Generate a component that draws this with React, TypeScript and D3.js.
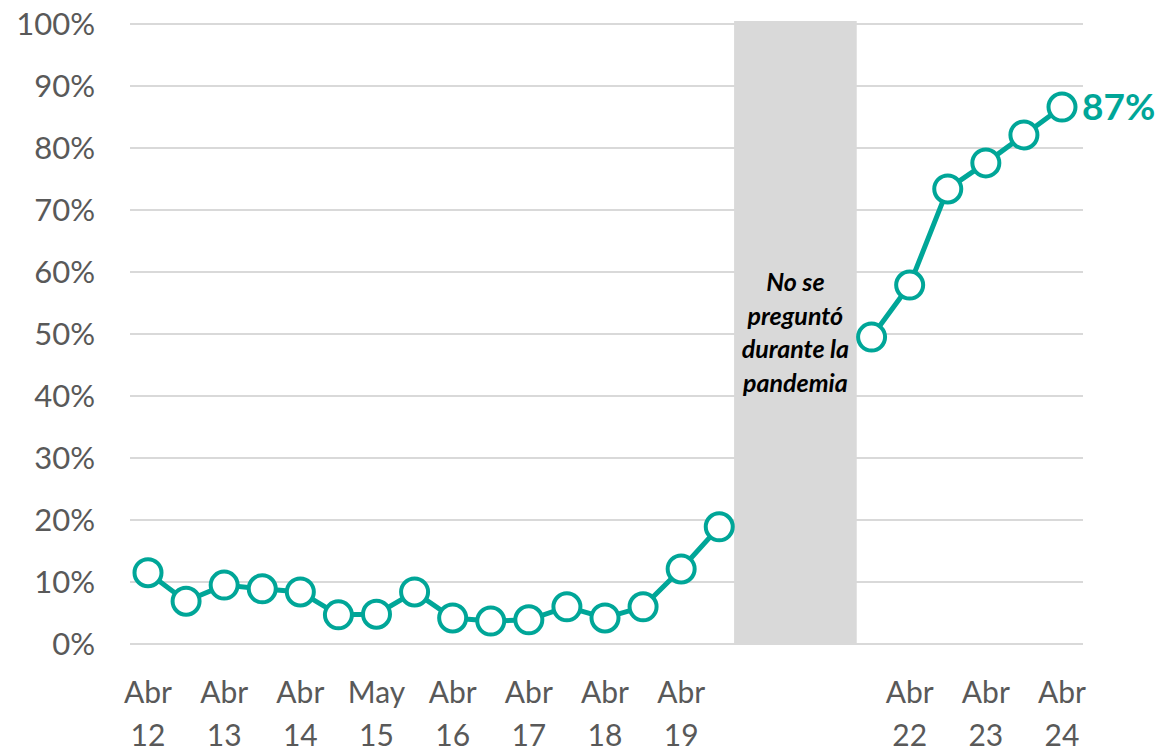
import React from "react";
import * as d3 from "d3";

const periods: string[] = [
  "Abr 12", "Oct 12", "Abr 13", "Oct 13", "Abr 14", "Oct 14", "May 15", "Oct 15",
  "Abr 16", "Oct 16", "Abr 17", "Oct 17", "Abr 18", "Oct 18", "Abr 19", "Oct 19",
  "g1", "g2", "g3", "Oct 21", "Abr 22", "Oct 22", "Abr 23", "Oct 23", "Abr 24",
];
const values: (number | null)[] = [
  11.5, 6.9, 9.5, 8.9, 8.4, 4.7, 4.8, 8.4,
  4.2, 3.7, 3.9, 6.0, 4.2, 6.0, 12.1, 18.9,
  null, null, null, 49.5, 57.9, 73.4, 77.6, 82.1, 86.6,
];
const tickLabels: { idx: number; top: string; bottom: string }[] = [
  { idx: 0, top: "Abr", bottom: "12" },
  { idx: 2, top: "Abr", bottom: "13" },
  { idx: 4, top: "Abr", bottom: "14" },
  { idx: 6, top: "May", bottom: "15" },
  { idx: 8, top: "Abr", bottom: "16" },
  { idx: 10, top: "Abr", bottom: "17" },
  { idx: 12, top: "Abr", bottom: "18" },
  { idx: 14, top: "Abr", bottom: "19" },
  { idx: 20, top: "Abr", bottom: "22" },
  { idx: 22, top: "Abr", bottom: "23" },
  { idx: 24, top: "Abr", bottom: "24" },
];
const yTicks: number[] = [0, 10, 20, 30, 40, 50, 60, 70, 80, 90, 100];
const gapNote: string[] = ["No se", "preguntó", "durante la", "pandemia"];
const finalLabel = "87%";

const TEAL = "#00a698";
const FONT = "Lato, 'Open Sans', sans-serif";

export default function App() {
  const W = 1160, H = 751;
  const x = d3.scaleLinear().domain([0, 24]).range([148, 1062]);
  const y = d3.scaleLinear().domain([0, 100]).range([644, 24]);
  const step = x(1) - x(0);

  const pts = values.map((v, i) => ({ i, v }));
  const line = d3
    .line<{ i: number; v: number | null }>()
    .defined((d) => d.v !== null)
    .x((d) => x(d.i))
    .y((d) => y(d.v as number));

  const bandX0 = x(17) - step * 1.61;
  const bandX1 = x(17) + step * 1.61;
  const lastIdx = values.length - 1;

  return (
    <svg width={W} height={H} style={{ position: "absolute", left: 0, top: 0 }}>
      <rect x={0} y={0} width={W} height={H} fill="#fff" />
      {yTicks.map((t) => (
        <g key={t}>
          <line x1={130} x2={1083} y1={y(t)} y2={y(t)} stroke="#d9d9d9" strokeWidth={2} />
          <text
            x={95}
            y={y(t)}
            dy="0.36em"
            textAnchor="end"
            fontFamily={FONT}
            fontSize={31}
            fill="#595959"
          >
            {t}%
          </text>
        </g>
      ))}
      <rect x={bandX0} y={21} width={bandX1 - bandX0} height={y(0) - 21} fill="#d9d9d9" />
      {gapNote.map((s, k) => (
        <text
          key={k}
          x={x(17)}
          y={291 + k * 33.5}
          textAnchor="middle"
          fontFamily={FONT}
          fontWeight="bold"
          fontStyle="italic"
          fontSize={25}
          fill="#000"
        >
          {s}
        </text>
      ))}
      <path d={line(pts) || ""} fill="none" stroke={TEAL} strokeWidth={5} />
      {pts
        .filter((d) => d.v !== null)
        .map((d) => (
          <circle
            key={d.i}
            cx={x(d.i)}
            cy={y(d.v as number)}
            r={13.5}
            fill="#fff"
            stroke={TEAL}
            strokeWidth={4}
          />
        ))}
      <text
        x={x(lastIdx) + 20}
        y={y(values[lastIdx] as number)}
        dy="0.36em"
        fontFamily={FONT}
        fontWeight="bold"
        fontSize={37}
        fill={TEAL}
      >
        {finalLabel}
      </text>
      {tickLabels.map((t) => (
        <g key={t.idx}>
          <text x={x(t.idx)} y={703} textAnchor="middle" fontFamily={FONT} fontSize={30} fill="#595959">
            {t.top}
          </text>
          <text x={x(t.idx)} y={746} textAnchor="middle" fontFamily={FONT} fontSize={30} fill="#595959">
            {t.bottom}
          </text>
        </g>
      ))}
    </svg>
  );
}
